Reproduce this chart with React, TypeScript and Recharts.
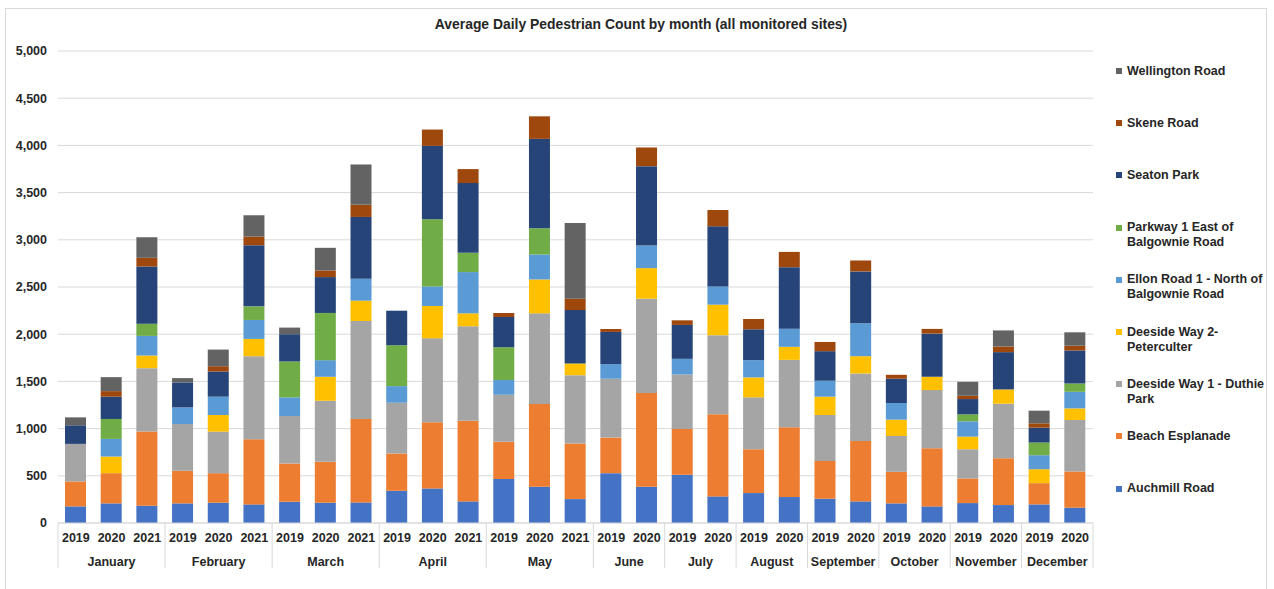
import React from "react";
import { BarChart, Bar, XAxis, YAxis, CartesianGrid, Legend } from "recharts";

// Category labels: one entry per bar (month group + year)
const periodMonth = [
  "January", "January", "January",
  "February", "February", "February",
  "March", "March", "March",
  "April", "April", "April",
  "May", "May", "May",
  "June", "June",
  "July", "July",
  "August", "August",
  "September", "September",
  "October", "October",
  "November", "November",
  "December", "December",
];
const periodYear = [
  "2019", "2020", "2021",
  "2019", "2020", "2021",
  "2019", "2020", "2021",
  "2019", "2020", "2021",
  "2019", "2020", "2021",
  "2019", "2020",
  "2019", "2020",
  "2019", "2020",
  "2019", "2020",
  "2019", "2020",
  "2019", "2020",
  "2019", "2020",
];

// Average daily pedestrian counts per site, in the same order as the periods above
const auchmillRoad = [176, 208, 183, 208, 215, 197, 225, 215, 218, 341, 366, 229, 465, 384, 253, 528, 384, 510, 282, 317, 275, 257, 229, 208, 176, 211, 190, 197, 162];
const beachEsplanade = [264, 320, 785, 345, 313, 690, 405, 433, 884, 395, 701, 855, 397, 876, 588, 377, 992, 486, 869, 464, 739, 401, 640, 334, 616, 261, 496, 225, 384];
const deesideWay1 = [398, 0, 672, 496, 440, 880, 503, 647, 1038, 538, 890, 1000, 497, 961, 725, 623, 1000, 577, 838, 550, 714, 486, 715, 380, 616, 309, 578, 0, 545];
const deesideWay2 = [0, 176, 134, 0, 176, 183, 0, 254, 215, 0, 342, 137, 0, 359, 124, 0, 324, 0, 324, 211, 138, 194, 183, 173, 141, 134, 151, 148, 123];
const ellonRoad1 = [0, 187, 208, 176, 194, 201, 198, 176, 232, 176, 207, 437, 155, 264, 0, 155, 239, 166, 193, 183, 193, 169, 349, 176, 0, 162, 0, 148, 176];
const parkway1 = [0, 211, 130, 0, 0, 144, 380, 500, 0, 433, 711, 204, 348, 278, 0, 0, 0, 0, 0, 0, 0, 0, 0, 0, 0, 74, 0, 134, 88];
const seatonPark = [197, 236, 605, 264, 267, 648, 289, 380, 655, 366, 778, 739, 320, 947, 566, 341, 841, 359, 637, 327, 651, 313, 549, 257, 457, 162, 395, 158, 350];
const skeneRoad = [0, 59, 92, 0, 56, 91, 0, 70, 130, 0, 173, 148, 43, 239, 120, 31, 198, 49, 173, 109, 162, 98, 116, 42, 50, 35, 60, 46, 50];
const wellingtonRoad = [84, 148, 218, 46, 176, 226, 70, 240, 426, 0, 0, 0, 0, 0, 803, 0, 0, 0, 0, 0, 0, 0, 0, 0, 0, 148, 170, 134, 142];

const yTicks = [0, 500, 1000, 1500, 2000, 2500, 3000, 3500, 4000, 4500, 5000];

// Stacking order, bottom to top
const SERIES = [
  { key: "auchmill", name: "Auchmill Road", color: "#4472C4", values: auchmillRoad },
  { key: "beach", name: "Beach Esplanade", color: "#ED7D31", values: beachEsplanade },
  { key: "deeside1", name: "Deeside Way 1 - Duthie Park", color: "#A5A5A5", values: deesideWay1 },
  { key: "deeside2", name: "Deeside Way 2-Peterculter", color: "#FFC000", values: deesideWay2 },
  { key: "ellon", name: "Ellon Road 1 - North of Balgownie Road", color: "#5B9BD5", values: ellonRoad1 },
  { key: "parkway", name: "Parkway 1 East of Balgownie Road", color: "#70AD47", values: parkway1 },
  { key: "seaton", name: "Seaton Park", color: "#264478", values: seatonPark },
  { key: "skene", name: "Skene Road", color: "#9E480E", values: skeneRoad },
  { key: "wellington", name: "Wellington Road", color: "#636363", values: wellingtonRoad },
];

const data = periodYear.map((year, i) => {
  const row: Record<string, string | number> = { id: `${periodMonth[i]} ${year}`, year, month: periodMonth[i] };
  SERIES.forEach((s) => {
    row[s.key] = s.values[i];
  });
  return row;
});

const FONT = '"Liberation Sans", Arial, sans-serif';
const TEXT = "#262626";
const GRID = "#d9d9d9";

const CHART_W = 1274;
const CHART_H = 589;
const MARGIN = { top: 51, right: 181, bottom: 0, left: 0 };
const Y_AXIS_W = 58;
const X_AXIS_H = 66;
const STEP = (CHART_W - MARGIN.left - MARGIN.right - Y_AXIS_W) / data.length;

// Two-level category tick: year under each bar, month name centred under its group,
// with separators between month groups.
const GroupedTick = (props: any) => {
  const { x, y } = props;
  const index: number = props.index ?? props.payload?.index ?? 0;
  const month = periodMonth[index];
  const first = index === 0 || periodMonth[index - 1] !== month;
  const isLastBar = index === periodMonth.length - 1;
  let groupSize = 0;
  if (first) {
    for (let j = index; j < periodMonth.length && periodMonth[j] === month; j++) groupSize++;
  }
  return (
    <g>
      <text x={x} y={y + 15} textAnchor="middle" dominantBaseline="central" fontFamily={FONT} fontWeight="bold" fontSize={12.5} fill={TEXT}>
        {periodYear[index]}
      </text>
      {first && (
        <>
          <line x1={x - STEP / 2} x2={x - STEP / 2} y1={y} y2={y + 45} stroke={GRID} strokeWidth={1} />
          <text x={x + ((groupSize - 1) * STEP) / 2} y={y + 38.5} textAnchor="middle" dominantBaseline="central" fontFamily={FONT} fontWeight="bold" fontSize={12.5} fill={TEXT}>
            {month}
          </text>
        </>
      )}
      {isLastBar && (
        <line x1={x + STEP / 2} x2={x + STEP / 2} y1={y} y2={y + 45} stroke={GRID} strokeWidth={1} />
      )}
    </g>
  );
};

const LEGEND_LEFT = 1105;

const LegendContent = () => {
  const items = [...SERIES].reverse();
  return (
    <div style={{ position: "relative", width: CHART_W - LEGEND_LEFT, height: CHART_H, fontFamily: FONT }}>
      {items.map((s, k) => {
        const cy = 71 + 52.2 * k;
        return (
          <div key={s.key}>
            <div style={{ position: "absolute", left: 11, top: cy - 3, width: 6, height: 6, background: s.color }} />
            <div
              style={{
                position: "absolute",
                left: 22,
                top: cy - 7.5,
                width: 143,
                fontSize: 12.5,
                lineHeight: "15px",
                fontWeight: "bold",
                color: TEXT,
              }}
            >
              {s.name}
            </div>
          </div>
        );
      })}
    </div>
  );
};

export default function App() {
  return (
    <div style={{ position: "absolute", left: 0, top: 0, width: CHART_W, height: CHART_H, overflow: "hidden", background: "#fff" }}>
      <div style={{ position: "absolute", left: 5, top: 8, width: 1262, height: 600, border: "1px solid #d9d9d9", boxSizing: "border-box" }} />
      <div
        style={{
          position: "absolute",
          left: 0,
          top: 16,
          width: 1282,
          textAlign: "center",
          fontFamily: FONT,
          fontWeight: "bold",
          fontSize: 13.9,
          lineHeight: "16px",
          color: TEXT,
        }}
      >
        Average Daily Pedestrian Count by month (all monitored sites)
      </div>
      <div style={{ position: "absolute", left: 0, top: 0 }}>
        <BarChart width={CHART_W} height={CHART_H} data={data} margin={MARGIN} barSize={21}>
          <CartesianGrid vertical={false} stroke={GRID} strokeWidth={1} />
          <XAxis
            dataKey="id"
            interval={0}
            height={X_AXIS_H}
            axisLine={{ stroke: GRID, strokeWidth: 1 }}
            tickLine={false}
            tickSize={0}
            tickMargin={0}
            tick={(p: any) => <GroupedTick {...p} />}
          />
          <YAxis
            width={Y_AXIS_W}
            domain={[0, 5000]}
            ticks={yTicks}
            interval={0}
            axisLine={false}
            tickLine={false}
            tickSize={0}
            tickMargin={11}
            tickFormatter={(v: number) => v.toLocaleString("en-US")}
            tick={{ fontFamily: FONT, fontWeight: "bold", fontSize: 12.5, fill: TEXT }}
          />
          <Legend
            layout="vertical"
            align="center"
            verticalAlign="middle"
            wrapperStyle={{ left: LEGEND_LEFT, top: 0, width: CHART_W - LEGEND_LEFT, height: CHART_H }}
            content={() => <LegendContent />}
          />
          {SERIES.map((s) => (
            <Bar key={s.key} dataKey={s.key} name={s.name} stackId="sites" fill={s.color} isAnimationActive={false} />
          ))}
        </BarChart>
      </div>
    </div>
  );
}
